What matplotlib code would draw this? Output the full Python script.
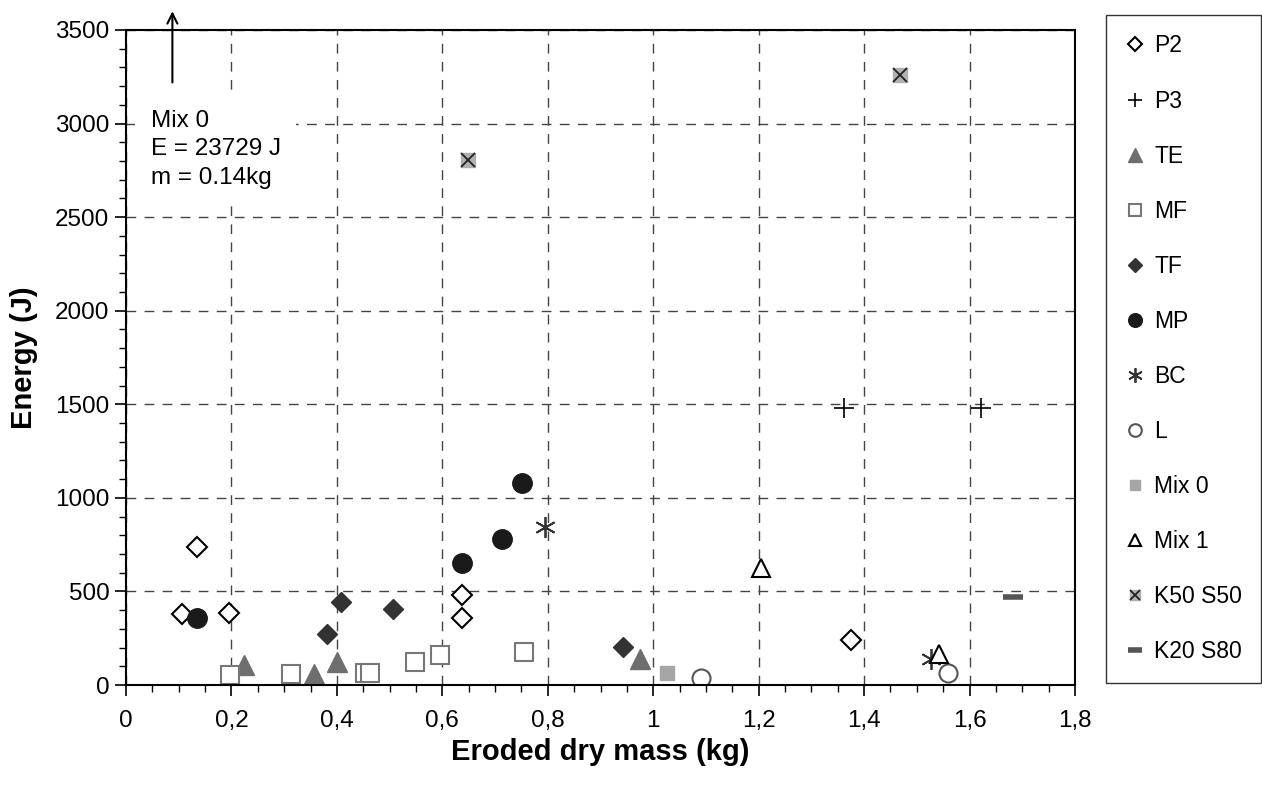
import matplotlib
matplotlib.use('Agg')
import matplotlib.pyplot as plt
from matplotlib.ticker import MultipleLocator, FuncFormatter
from matplotlib.legend_handler import HandlerTuple

# datos (masa erosionada kg, energia J)
p2_x = [0.106, 0.135, 0.195, 0.637, 0.638, 1.376]
p2_y = [379, 737, 385, 358, 481, 240]
p3_x = [1.362, 1.622]
p3_y = [1480, 1480]
te_x = [0.224, 0.356, 0.400, 0.974]
te_y = [107, 59, 123, 139]
mf_x = [0.197, 0.313, 0.453, 0.462, 0.549, 0.595, 0.754]
mf_y = [53, 59, 64, 64, 123, 160, 176]
tf_x = [0.381, 0.407, 0.506, 0.942]
tf_y = [272, 443, 406, 203]
mp_x = [0.135, 0.637, 0.714, 0.752]
mp_y = [358, 652, 780, 1079]
bc_x = [0.794, 1.527]
bc_y = [844, 139]
l_x = [1.091, 1.559]
l_y = [37, 64]
mix0_x = [1.027]
mix0_y = [64]
mix1_x = [1.205, 1.542]
mix1_y = [625, 166]
k50_x = [0.648, 1.468]
k50_y = [2805, 3259]
k20_x = [1.683]
k20_y = [470]

plt.rcParams['font.family'] = ['Liberation Sans', 'DejaVu Sans']

fig = plt.figure(figsize=(12.62, 7.85), dpi=100)
ax = fig.add_axes([126/1262, 100/785, (1075-126)/1262, (685-30)/785])

kw = dict(linestyle='none')
h_p2, = ax.plot(p2_x, p2_y, marker='D', ms=10, mfc='white', mec='black', mew=1.5, label='P2', **kw)
h_p3, = ax.plot(p3_x, p3_y, marker='+', ms=14, mec='black', mew=1.2, label='P3', **kw)
h_te, = ax.plot(te_x, te_y, marker='^', ms=14, mfc='#6e6e6e', mec='#6e6e6e', label='TE', **kw)
h_mf, = ax.plot(mf_x, mf_y, marker='s', ms=12.5, mfc='white', mec='#777777', mew=1.5, label='MF', **kw)
h_tf, = ax.plot(tf_x, tf_y, marker='D', ms=10, mfc='#333333', mec='#333333', label='TF', **kw)
h_mp, = ax.plot(mp_x, mp_y, marker='o', ms=14, mfc='#1a1a1a', mec='#1a1a1a', label='MP', **kw)
h_bc, = ax.plot(bc_x, bc_y, marker=(6, 2, 0), ms=15, mec='#333333', mew=1.3, label='BC', **kw)
h_l, = ax.plot(l_x, l_y, marker='o', ms=13, mfc='white', mec='#555555', mew=1.5, label='L', **kw)
h_m0, = ax.plot(mix0_x, mix0_y, marker='s', ms=10, mfc='#a6a6a6', mec='#a6a6a6', label='Mix 0', **kw)
h_m1, = ax.plot(mix1_x, mix1_y, marker='^', ms=13, mfc='white', mec='black', mew=1.5, label='Mix 1', **kw)
h_k50a, = ax.plot(k50_x, k50_y, marker='s', ms=10.5, mfc='#b0b0b0', mec='#b0b0b0', **kw)
h_k50b, = ax.plot(k50_x, k50_y, marker='x', ms=10, mec='#222222', mew=1.3, **kw)
h_k20, = ax.plot(k20_x, k20_y, marker='_', ms=14, mec='#555555', mew=4, label='K20 S80', **kw)

ax.set_xlim(0, 1.8)
ax.set_ylim(0, 3500)
ax.xaxis.set_major_locator(MultipleLocator(0.2))
ax.xaxis.set_minor_locator(MultipleLocator(0.05))
ax.yaxis.set_major_locator(MultipleLocator(500))
ax.yaxis.set_minor_locator(MultipleLocator(100))
ax.xaxis.set_major_formatter(FuncFormatter(lambda v, p: ('%g' % round(v, 2)).replace('.', ',')))

ax.grid(True, which='major', color='#444444', linestyle=(0, (7, 6)), linewidth=1)
ax.set_axisbelow(True)
for s in ax.spines.values():
    s.set_linewidth(1.5)
ax.tick_params(which='major', direction='out', length=8, width=1.2, labelsize=17.5, pad=4)
ax.tick_params(which='minor', direction='out', length=5, width=1)
ax.tick_params(axis='x', pad=10)

ax.set_xlabel('Eroded dry mass (kg)', fontsize=21, fontweight='bold', labelpad=4)
ax.set_ylabel('Energy (J)', fontsize=21, fontweight='bold', labelpad=12)

# nota del punto Mix 0 fuera de escala
ax.text(0.047, 3075, 'Mix 0\nE = 23729 J\nm = 0.14kg', fontsize=17.5, va='top', ha='left',
        linespacing=1.4, zorder=4,
        bbox=dict(facecolor='white', edgecolor='none', pad=11))
ax.annotate('', xy=(0.088, 3615), xytext=(0.088, 3205), annotation_clip=False,
            arrowprops=dict(arrowstyle='->', color='black', lw=1.5, mutation_scale=18), zorder=5)

handles = [h_p2, h_p3, h_te, h_mf, h_tf, h_mp, h_bc, h_l, h_m0, h_m1, (h_k50a, h_k50b), h_k20]
labels = ['P2', 'P3', 'TE', 'MF', 'TF', 'MP', 'BC', 'L', 'Mix 0', 'Mix 1', 'K50 S50', 'K20 S80']
leg = fig.legend(handles, labels, loc='upper left', bbox_to_anchor=(1106/1262, 1-15/785),
                 fontsize=16.5, markerscale=0.7, frameon=True, fancybox=False, edgecolor='black',
                 borderpad=0.85, labelspacing=1.4, handlelength=0.8, handletextpad=0.45,
                 borderaxespad=0, handler_map={tuple: HandlerTuple(ndivide=1)})
leg.get_frame().set_linewidth(1.0)

fig.savefig('out.png', dpi=100)
